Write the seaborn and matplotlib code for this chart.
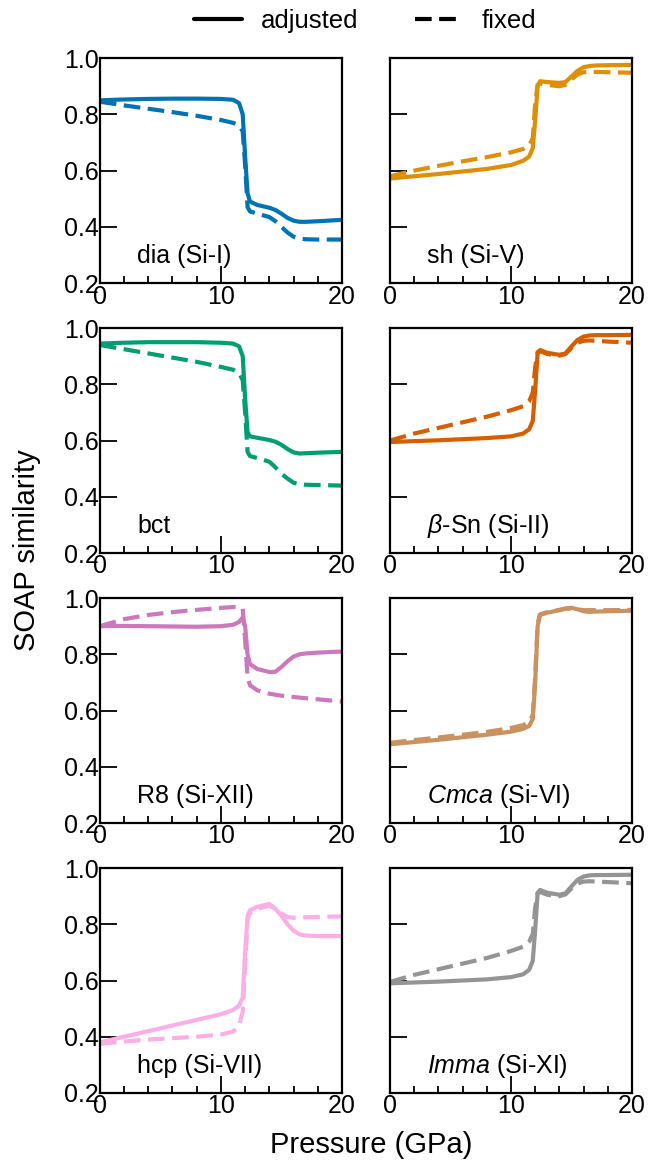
import numpy as np
import pandas as pd
import matplotlib
matplotlib.use("Agg")
import matplotlib.pyplot as plt
from matplotlib.lines import Line2D
import seaborn as sns

sns.set_style("ticks")
plt.rcParams['font.family'] = ['Liberation Sans', 'DejaVu Sans']
plt.rcParams['mathtext.fontset'] = 'custom'
plt.rcParams['mathtext.rm'] = 'Liberation Sans'
plt.rcParams['mathtext.it'] = 'Liberation Sans:italic'
for k in ['text.color', 'axes.labelcolor', 'xtick.color', 'ytick.color', 'axes.edgecolor']:
    plt.rcParams[k] = 'black'

# pressure grid (GPa)
pressure = [0, 2, 4, 6, 8, 10, 11, 11.5, 11.8, 12.0, 12.2, 12.4, 13, 14, 14.5, 15, 15.5, 16, 16.5, 17, 18, 20]

phases = ["dia (Si-I)", "sh (Si-V)", "bct", r"$\beta$-Sn (Si-II)",
          "R8 (Si-XII)", r"$Cmca$ (Si-VI)", "hcp (Si-VII)", r"$Imma$ (Si-XI)"]

dia_adj = [0.850, 0.853, 0.855, 0.856, 0.856, 0.855, 0.852, 0.840, 0.80, 0.65, 0.52, 0.49, 0.478, 0.468, 0.460, 0.447, 0.432, 0.422, 0.418, 0.418, 0.420, 0.425]
dia_fix = [0.845, 0.832, 0.820, 0.808, 0.795, 0.780, 0.770, 0.760, 0.740, 0.62, 0.47, 0.455, 0.447, 0.435, 0.420, 0.400, 0.380, 0.365, 0.358, 0.356, 0.355, 0.355]
sh_adj = [0.572, 0.580, 0.588, 0.597, 0.606, 0.620, 0.635, 0.650, 0.68, 0.78, 0.90, 0.918, 0.915, 0.912, 0.915, 0.935, 0.955, 0.968, 0.972, 0.974, 0.975, 0.976]
sh_fix = [0.580, 0.600, 0.617, 0.633, 0.648, 0.665, 0.677, 0.690, 0.715, 0.84, 0.905, 0.91, 0.905, 0.900, 0.905, 0.925, 0.942, 0.950, 0.951, 0.951, 0.950, 0.948]
bct_adj = [0.945, 0.948, 0.950, 0.950, 0.950, 0.948, 0.945, 0.935, 0.90, 0.75, 0.63, 0.615, 0.610, 0.602, 0.596, 0.585, 0.570, 0.558, 0.554, 0.555, 0.557, 0.560]
bct_fix = [0.940, 0.925, 0.910, 0.895, 0.880, 0.862, 0.852, 0.840, 0.815, 0.70, 0.56, 0.545, 0.538, 0.525, 0.505, 0.482, 0.465, 0.450, 0.445, 0.443, 0.442, 0.440]
bsn_adj = [0.595, 0.598, 0.601, 0.605, 0.609, 0.615, 0.625, 0.640, 0.67, 0.78, 0.91, 0.922, 0.912, 0.905, 0.91, 0.935, 0.958, 0.970, 0.974, 0.975, 0.975, 0.976]
bsn_fix = [0.600, 0.625, 0.645, 0.665, 0.685, 0.708, 0.722, 0.74, 0.77, 0.86, 0.915, 0.918, 0.908, 0.902, 0.908, 0.93, 0.948, 0.955, 0.956, 0.955, 0.952, 0.948]
r8_adj = [0.900, 0.901, 0.900, 0.899, 0.898, 0.900, 0.905, 0.915, 0.932, 0.90, 0.80, 0.765, 0.748, 0.737, 0.738, 0.755, 0.775, 0.792, 0.800, 0.803, 0.806, 0.810]
r8_fix = [0.900, 0.925, 0.940, 0.950, 0.958, 0.965, 0.968, 0.968, 0.962, 0.85, 0.72, 0.69, 0.672, 0.660, 0.656, 0.653, 0.650, 0.648, 0.646, 0.644, 0.640, 0.632]
cmca_adj = [0.480, 0.488, 0.496, 0.505, 0.514, 0.525, 0.535, 0.545, 0.57, 0.70, 0.90, 0.94, 0.948, 0.957, 0.963, 0.965, 0.960, 0.953, 0.951, 0.952, 0.953, 0.955]
cmca_fix = [0.485, 0.495, 0.504, 0.514, 0.524, 0.538, 0.548, 0.560, 0.585, 0.72, 0.91, 0.942, 0.950, 0.958, 0.962, 0.963, 0.960, 0.957, 0.957, 0.957, 0.957, 0.958]
hcp_adj = [0.380, 0.400, 0.420, 0.440, 0.460, 0.480, 0.495, 0.51, 0.54, 0.70, 0.83, 0.850, 0.862, 0.872, 0.855, 0.830, 0.800, 0.777, 0.764, 0.760, 0.758, 0.758]
hcp_fix = [0.375, 0.383, 0.390, 0.395, 0.400, 0.408, 0.418, 0.44, 0.49, 0.65, 0.82, 0.840, 0.855, 0.866, 0.855, 0.838, 0.826, 0.823, 0.824, 0.825, 0.826, 0.828]
imma_adj = [0.590, 0.593, 0.596, 0.600, 0.604, 0.612, 0.622, 0.638, 0.67, 0.78, 0.91, 0.922, 0.912, 0.905, 0.91, 0.935, 0.958, 0.970, 0.974, 0.975, 0.975, 0.976]
imma_fix = [0.595, 0.620, 0.640, 0.660, 0.680, 0.705, 0.72, 0.738, 0.765, 0.86, 0.912, 0.915, 0.905, 0.900, 0.906, 0.928, 0.945, 0.952, 0.953, 0.952, 0.950, 0.946]

adjusted = [dia_adj, sh_adj, bct_adj, bsn_adj, r8_adj, cmca_adj, hcp_adj, imma_adj]
fixed = [dia_fix, sh_fix, bct_fix, bsn_fix, r8_fix, cmca_fix, hcp_fix, imma_fix]

colors = sns.color_palette("colorblind", 8)
dash = (0, (4, 1.8))

fig, axes = plt.subplots(4, 2, figsize=(6.57, 11.63), dpi=100, sharey=True)
fig.subplots_adjust(left=0.152, right=0.962, top=0.950, bottom=0.0602,
                    wspace=0.198, hspace=0.2)

for i, ax in enumerate(axes.flat):
    df = pd.DataFrame({"P": pressure, "adj": adjusted[i], "fix": fixed[i]})
    sns.lineplot(data=df, x="P", y="fix", ax=ax, color=colors[i], lw=3,
                 linestyle=dash)
    sns.lineplot(data=df, x="P", y="adj", ax=ax, color=colors[i], lw=3)
    ax.set_xlim(0, 20)
    ax.set_ylim(0.2, 1.0)
    ax.set_xticks([0, 10, 20])
    ax.set_xticks(np.arange(0, 21, 2), minor=True)
    ax.set_yticks([0.2, 0.4, 0.6, 0.8, 1.0])
    ax.set_xlabel("")
    ax.set_ylabel("")
    ax.tick_params(which='major', direction='in', length=12, width=1.3, labelsize=18, pad=1)
    ax.tick_params(which='minor', direction='in', length=5, width=1.3)
    ax.tick_params(axis='y', which='minor', left=False)
    for s in ax.spines.values():
        s.set_linewidth(1.6)
        s.set_visible(True)
    ax.text(0.155, 0.09, phases[i], transform=ax.transAxes, fontsize=18,
            va='baseline', ha='left')
    if i % 2 == 1:
        ax.tick_params(axis='y', labelleft=False)

fig.text(371 / 657, 1 - 1153 / 1163, "Pressure (GPa)", fontsize=21,
         ha='center', va='baseline')
fig.text(27 / 657, 1 - 550 / 1163, "SOAP similarity", fontsize=21,
         ha='center', va='center', rotation=90)

handles = [Line2D([], [], color='black', lw=3),
           Line2D([], [], color='black', lw=3, linestyle=dash)]
fig.legend(handles, ["adjusted", "fixed"], loc='upper center', ncol=2,
           frameon=False, fontsize=18.5, bbox_to_anchor=(0.556, 1.012),
           handlelength=1.85, columnspacing=2.2, handletextpad=0.75)

fig.savefig("out.png", dpi=100)
